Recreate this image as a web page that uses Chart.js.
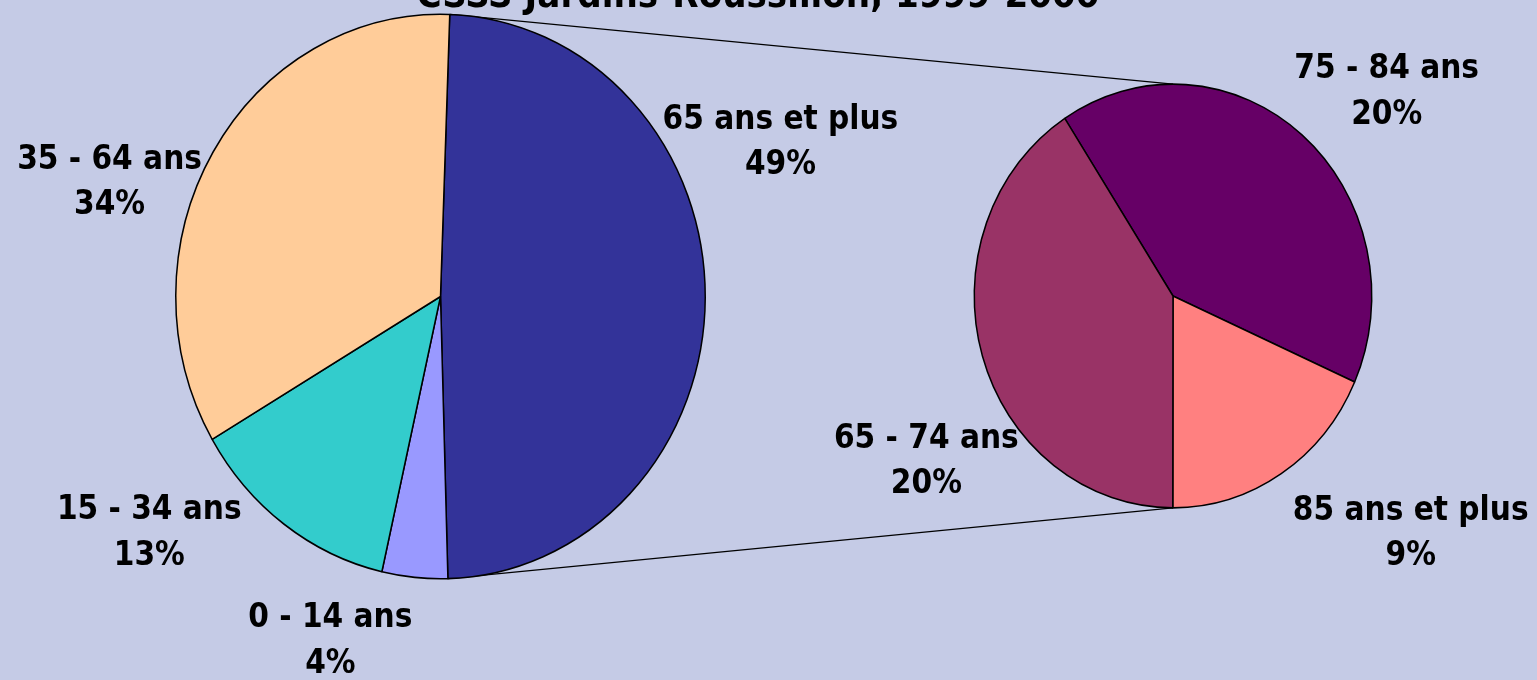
<!DOCTYPE html>
<html lang="fr">
<head>
<meta charset="utf-8">
<title>CSSS Jardins-Roussillon</title>
<script src="https://cdn.jsdelivr.net/npm/chart.js@4/dist/chart.umd.min.js"></script>
<style>
  html, body { margin: 0; padding: 0; }
  body {
    width: 1537px; height: 680px; overflow: hidden; position: relative;
    background: #C5CBE6;
  }
  canvas { position: absolute; left: 0; top: 0; }
</style>
</head>
<body>
<canvas id="liens" width="1537" height="680"></canvas>
<canvas id="graphAges" width="1537" height="680"></canvas>
<canvas id="graphAines" width="1537" height="680"></canvas>
<script>
// Données
const titre = 'CSSS Jardins-Roussillon, 1999-2000';
const groupesAge = ['65 ans et plus', '0 - 14 ans', '15 - 34 ans', '35 - 64 ans'];
const partsAge   = [49, 4, 13, 34];
const groupesAines = ['75 - 84 ans', '85 ans et plus', '65 - 74 ans'];
const partsAines   = [20, 9, 20];

const couleursAge   = ['#333399', '#9999FF', '#33CCCC', '#FFCC99'];
const couleursAines = ['#660066', '#FF8080', '#993366'];

const K = 1.066;               // étirement vertical des tartes
const police = 'bold 33px "DejaVu Sans Condensed", "DejaVu Sans", sans-serif';

// Étire la tarte verticalement (ellipse comme l'original)
const etirement = {
  id: 'etirement',
  beforeDatasetsDraw(chart) {
    const arc = chart.getDatasetMeta(0).data[0];
    const ctx = chart.ctx;
    ctx.save();
    ctx.translate(arc.x, arc.y);
    ctx.scale(1, K);
    ctx.translate(-arc.x, -arc.y);
  },
  afterDatasetsDraw(chart) {
    chart.ctx.restore();
  }
};

// Étiquettes : nom + pourcentage, placées autour de la tarte
const etiquettes = {
  id: 'etiquettes',
  afterDraw(chart, args, opts) {
    const ctx = chart.ctx;
    const meta = chart.getDatasetMeta(0);
    const valeurs = chart.data.datasets[0].data;
    ctx.save();
    ctx.font = police;
    ctx.fillStyle = '#000';
    ctx.textAlign = 'center';
    ctx.textBaseline = 'middle';
    meta.data.forEach((arc, i) => {
      const r = arc.outerRadius;
      const [dx, dy] = opts.decalages[i];
      const x = arc.x + dx * r;
      const y = arc.y + dy * r * K;
      ctx.fillText(chart.data.labels[i], x, y - opts.interligne / 2);
      ctx.fillText(valeurs[i] + '%', x, y + opts.interligne / 2);
    });
    ctx.restore();
  }
};

function optionsTarte(padding, decalages, rotation) {
  return {
    responsive: false,
    animation: false,
    rotation: rotation,
    layout: { padding: padding },
    plugins: {
      legend: { display: false },
      tooltip: { enabled: false },
      etiquettes: { decalages: decalages, interligne: 45.5 }
    }
  };
}

// Tarte principale
const chartAges = new Chart(document.getElementById('graphAges'), {
  type: 'pie',
  data: {
    labels: groupesAge,
    datasets: [{ data: partsAge, backgroundColor: couleursAge, borderColor: '#000', borderWidth: 1.5 }]
  },
  options: optionsTarte(
    { left: 175, right: 831, top: 31, bottom: 118 },
    [[1.284, -0.545], [-0.416, 1.223], [-1.100, 0.839], [-1.250, -0.402]],
    2
  ),
  plugins: [etirement, etiquettes]
});

// Tarte secondaire (65 ans et plus)
const chartAines = new Chart(document.getElementById('graphAines'), {
  type: 'pie',
  data: {
    labels: groupesAines,
    datasets: [{ data: partsAines, backgroundColor: couleursAines, borderColor: '#000', borderWidth: 1.5 }]
  },
  options: optionsTarte(
    { left: 973.5, right: 164.5, top: 96.5, bottom: 184.5 },
    [[1.075, -0.962], [1.196, 1.124], [-1.241, 0.784]],
    -33
  ),
  plugins: [etirement, etiquettes]
});

// Titre + lignes de liaison entre les deux tartes
const ctx = document.getElementById('liens').getContext('2d');
ctx.font = 'bold 38px "DejaVu Sans Condensed", "DejaVu Sans", sans-serif';
ctx.fillStyle = '#000';
ctx.textAlign = 'center';
ctx.textBaseline = 'alphabetic';
ctx.fillText(titre, 758, 7);

const tranche = chartAges.getDatasetMeta(0).data[0];
const petite = chartAines.getDatasetMeta(0).data[0];
const rA = tranche.outerRadius, rB = petite.outerRadius;
function point(arc, r, angle) {
  return [arc.x + r * Math.cos(angle), arc.y + r * Math.sin(angle) * K];
}
const haut1 = point(tranche, rA, tranche.startAngle);
const bas1  = point(tranche, rA, tranche.endAngle);
const haut2 = point(petite, rB, -Math.PI / 2);
const bas2  = point(petite, rB, Math.PI / 2);
ctx.strokeStyle = '#000';
ctx.lineWidth = 1.2;
ctx.beginPath();
ctx.moveTo(haut1[0], haut1[1]);
ctx.lineTo(haut2[0], haut2[1]);
ctx.moveTo(bas1[0], bas1[1]);
ctx.lineTo(bas2[0], bas2[1]);
ctx.stroke();
</script>
</body>
</html>
